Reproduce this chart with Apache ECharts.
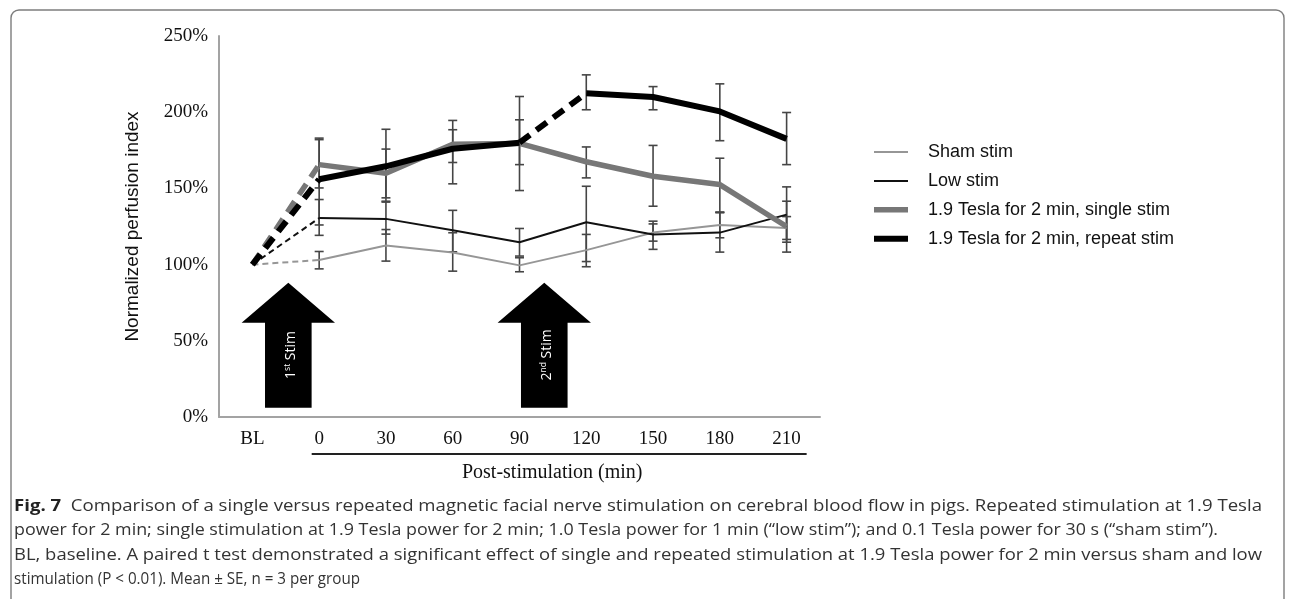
<!DOCTYPE html>
<html>
<head>
<meta charset="utf-8">
<script src="https://cdn.jsdelivr.net/npm/echarts@6/dist/echarts.min.js"></script>
<style>
html,body{margin:0;padding:0;background:#fff;}
#chart{width:1293px;height:599px;}
</style>
</head>
<body>
<div id="chart"></div>
<script>
// ---------- data ----------
const categories = ['BL', '0', '30', '60', '90', '120', '150', '180', '210'];
const yTickMin = 0, yTickMax = 250, yTickStep = 50;

const shamMean   = [100, 103,   112.5, 108,   99.5,  109.5, 121,   126,   124];
const lowMean    = [100, 130.5, 130,   122.6, 114.7, 127.8, 119.8, 121,   132.8];
const singleMean = [100, 165.6, 160,   179,   179.5, 167.5, 158,   152.5, 125];
const repeatMean = [100, 156,   164.5, 176,   180,   212.5, 210,   200.5, 182.5];

const shamLow    = [null, 97.2,  102.3, 95.7,  95.3,  98.6,  115.4, 117.6, 116.5];
const shamHigh   = [null, 108.6, 123,   120.9, 104.5, 119.8, 126.7, 134.4, 131.5];
const lowLow     = [null, 119.2, 120,   108.4, 105.6, 102,   110,   108.2, 114.7];
const lowHigh    = [null, 142.7, 141,   135.6, 123.7, 151.4, 128.5, 134,   141.6];
const singleLow  = [null, 150.3, 143.8, 153,   165.6, 156.9, 138.3, 134.4, 108.2];
const singleHigh = [null, 182,   175.8, 194.6, 195,   177.2, 178.2, 169.8, 151];
const repeatLow  = [null, 126,   141.6, 167,   148.6, 201.6, 201.6, 181.3, 165.6];
const repeatHigh = [null, 183,   188.8, 188.5, 210.3, 224.5, 216.8, 218.6, 199.8];

const seriesNames = ['Sham stim', 'Low stim', '1.9 Tesla for 2 min, single stim', '1.9 Tesla for 2 min, repeat stim'];
const stimLabels = [['1', 'st'], ['2', 'nd']];

const captionLabel = 'Fig. 7';
const captionLines = [
  'Comparison of a single versus repeated magnetic facial nerve stimulation on cerebral blood flow in pigs. Repeated stimulation at 1.9 Tesla',
  'power for 2 min; single stimulation at 1.9 Tesla power for 2 min; 1.0 Tesla power for 1 min (\u201clow stim\u201d); and 0.1 Tesla power for 30 s (\u201csham stim\u201d).',
  'BL, baseline. A paired t test demonstrated a significant effect of single and repeated stimulation at 1.9 Tesla power for 2 min versus sham and low',
  'stimulation (P < 0.01). Mean \u00b1 SE, n = 3 per group'
];

// ---------- styles ----------
const groups = [
  {name: seriesNames[0], mean: shamMean,   lo: shamLow,   hi: shamHigh,   color: '#969696', width: 2,   dash: [6, 4],   solid: [[1, 8]],         dashed: [[0, 1]]},
  {name: seriesNames[1], mean: lowMean,    lo: lowLow,    hi: lowHigh,    color: '#111111', width: 2,   dash: [6, 4],   solid: [[1, 8]],         dashed: [[0, 1]]},
  {name: seriesNames[2], mean: singleMean, lo: singleLow, hi: singleHigh, color: '#777777', width: 5.5, dash: [13, 8], solid: [[1, 8]],         dashed: [[0, 1]]},
  {name: seriesNames[3], mean: repeatMean, lo: repeatLow, hi: repeatHigh, color: '#000000', width: 6,   dash: [13, 8], solid: [[1, 4], [5, 8]], dashed: [[0, 1], [4, 5]]}
];

function segment(arr, a, b) {
  return arr.map((v, i) => (i >= a && i <= b) ? v : '-');
}

const chart = echarts.init(document.getElementById('chart'), null, {renderer: 'canvas'});

const series = [];
// error bars
groups.forEach(g => {
  const data = [];
  g.lo.forEach((v, i) => { if (v != null) data.push([i, v, g.hi[i]]); });
  series.push({
    type: 'custom',
    name: g.name + ' SE',
    silent: true,
    z: 1,
    encode: {x: 0, y: [1, 2]},
    data: data,
    renderItem: function (params, api) {
      const x = api.value(0);
      const pLo = api.coord([x, api.value(1)]);
      const pHi = api.coord([x, api.value(2)]);
      const w = 4.5;
      const st = {stroke: '#454545', lineWidth: 1.6};
      return {
        type: 'group',
        children: [
          {type: 'line', shape: {x1: pLo[0], y1: pLo[1], x2: pHi[0], y2: pHi[1]}, style: st},
          {type: 'line', shape: {x1: pLo[0] - w, y1: pLo[1], x2: pLo[0] + w, y2: pLo[1]}, style: st},
          {type: 'line', shape: {x1: pHi[0] - w, y1: pHi[1], x2: pHi[0] + w, y2: pHi[1]}, style: st}
        ]
      };
    }
  });
});
// lines
groups.forEach((g, gi) => {
  g.solid.forEach(r => {
    series.push({
      type: 'line', name: g.name, z: 3 + gi, silent: true,
      symbol: 'none', showSymbol: false, connectNulls: false,
      data: segment(g.mean, r[0], r[1]),
      lineStyle: {color: g.color, width: g.width, type: 'solid', join: 'round', cap: 'butt'},
      itemStyle: {color: g.color}
    });
  });
  g.dashed.forEach(r => {
    series.push({
      type: 'line', name: g.name, z: 3 + gi, silent: true,
      symbol: 'none', showSymbol: false, connectNulls: false,
      data: segment(g.mean, r[0], r[1]),
      lineStyle: {color: g.color, width: g.width, type: g.dash, join: 'round', cap: 'butt'},
      itemStyle: {color: g.color}
    });
  });
});

chart.setOption({
  animation: false,
  backgroundColor: '#ffffff',
  grid: {left: 219, right: 473, top: 36, bottom: 182, containLabel: false},
  legend: {
    orient: 'vertical',
    left: 871, top: 143,
    padding: 0,
    itemWidth: 34, itemHeight: 16, itemGap: 10.9,
    selectedMode: false,
    textStyle: {fontFamily: 'Liberation Sans, Arial, sans-serif', fontSize: 18, color: '#111', padding: [0, 0, 0, 15]},
    data: groups.map(g => ({name: g.name, itemStyle: {opacity: 0}, lineStyle: {width: g.width, color: g.color, type: 'solid'}}))
  },
  xAxis: {
    type: 'category',
    data: categories,
    boundaryGap: true,
    axisTick: {show: false},
    axisLine: {show: true, lineStyle: {color: '#a3a3a3', width: 2}},
    axisLabel: {fontFamily: 'Liberation Serif, Times New Roman, serif', fontSize: 19, color: '#111', margin: 13},
    splitLine: {show: false}
  },
  yAxis: {
    type: 'value',
    min: yTickMin, max: yTickMax, interval: yTickStep,
    axisTick: {show: false},
    axisLine: {show: true, lineStyle: {color: '#a3a3a3', width: 2}},
    axisLabel: {formatter: '{value}%', fontFamily: 'Liberation Serif, Times New Roman, serif', fontSize: 19, color: '#111', margin: 11},
    splitLine: {show: false},
    name: 'Normalized perfusion index',
    nameLocation: 'middle',
    nameGap: 77,
    nameTextStyle: {fontFamily: 'Liberation Sans, Arial, sans-serif', fontSize: 19, color: '#111'}
  },
  series: series
});

// ---------- annotations ----------
function px(idx, val) {
  const i0 = Math.floor(idx);
  const f = idx - i0;
  const a = chart.convertToPixel({gridIndex: 0}, [i0, val]);
  const b = chart.convertToPixel({gridIndex: 0}, [i0 + 1, val]);
  return [a[0] + (b[0] - a[0]) * f, a[1]];
}

const graphics = [];
// frame
graphics.push({type: 'rect', shape: {x: 11, y: 10, width: 1273, height: 800, r: 8},
  style: {fill: 'none', stroke: '#7d7d7d', lineWidth: 1.4}, silent: true, z: 0});

// stimulation arrows
const arrowAt = [0.538, 4.371];
arrowAt.forEach((ax, k) => {
  const top = px(ax, 88.1), base = px(ax, 61.9), bottom = px(ax, 6.1), mid = px(ax, 40.7);
  const cx = top[0];
  const hw = 46.7, sw = 23.3;
  graphics.push({
    type: 'polygon', silent: true, z: 10,
    shape: {points: [[cx, top[1]], [cx + hw, base[1]], [cx + sw, base[1]], [cx + sw, bottom[1]],
                     [cx - sw, bottom[1]], [cx - sw, base[1]], [cx - hw, base[1]]]},
    style: {fill: '#000'}
  });
  graphics.push({
    type: 'text', silent: true, z: 11,
    x: cx + 3, y: mid[1], rotation: Math.PI / 2,
    style: {
      text: '{n|' + stimLabels[k][0] + '}{s|' + stimLabels[k][1] + '}{n| Stim}',
      align: 'center', verticalAlign: 'middle',
      rich: {
        n: {fontFamily: 'Open Sans, sans-serif', fontSize: 14, fill: '#fff', color: '#fff', lineHeight: 16},
        s: {fontFamily: 'Open Sans, sans-serif', fontSize: 8.5, fill: '#fff', color: '#fff', lineHeight: 16, verticalAlign: 'top', padding: [0, 0, 6, 0]}
      }
    }
  });
});

// underline of post-stimulation labels
const axisY = chart.convertToPixel({gridIndex: 0}, [0, 0])[1];
const ulA = px(0.888, 0), ulB = px(8.30, 0);
graphics.push({type: 'line', silent: true,
  shape: {x1: ulA[0], y1: axisY + 37, x2: ulB[0], y2: axisY + 37},
  style: {stroke: '#222', lineWidth: 2}});
// x axis title
const xt = px(4.49, 0);
graphics.push({type: 'text', silent: true, x: xt[0], y: axisY + 56,
  style: {text: 'Post-stimulation (min)', align: 'center', verticalAlign: 'middle',
    fontFamily: 'Liberation Serif, Times New Roman, serif', fontSize: 20, fill: '#111'}});

// caption: each line fitted horizontally to the width seen in the reference
const capFont = 16.5;
const capY = [506, 530.5, 555, 579.5];
const capRight = [1262, 1218, 1262, 360];
const mctx = document.createElement('canvas').getContext('2d');
function measure(t, bold) {
  mctx.font = (bold ? 'bold ' : '') + capFont + 'px "Open Sans"';
  return mctx.measureText(t).width;
}
captionLines.forEach((line, i) => {
  let txt, natural;
  if (i === 0) {
    txt = '{b|' + captionLabel + '}{t|  ' + line + '}';
    natural = measure(captionLabel, true) + measure('  ' + line, false);
  } else {
    txt = '{t|' + line + '}';
    natural = measure(line, false);
  }
  const sx = (capRight[i] - 14) / natural;
  graphics.push({type: 'text', silent: true, x: 14, y: capY[i], scaleX: sx,
    style: {text: txt, align: 'left', verticalAlign: 'middle',
      rich: {
        b: {fontFamily: 'Open Sans, sans-serif', fontWeight: 'bold', fontSize: capFont, fill: '#222'},
        t: {fontFamily: 'Open Sans, sans-serif', fontSize: capFont, fill: '#333'}
      }}});
});

chart.setOption({graphic: graphics});
</script>
</body>
</html>
